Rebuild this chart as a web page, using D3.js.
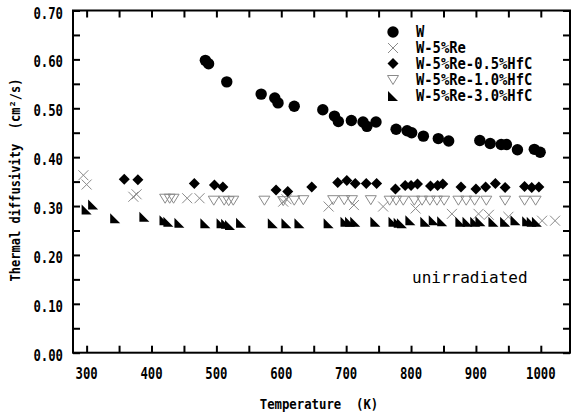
<!DOCTYPE html>
<html>
<head>
<meta charset="utf-8">
<script src="https://cdn.jsdelivr.net/npm/d3@7"></script>
<style>
  body { margin: 0; background: #fff; }
  svg { display: block; }
  text { white-space: pre; }
</style>
</head>
<body>
<div class="container"></div>
<script>
// data (temperature K, diffusivity cm2/s)
const wT = [483, 488, 516, 569, 590, 595, 620, 664, 682, 688, 708, 726, 732, 746, 777, 794, 801, 819, 842, 858, 906, 922, 939, 947, 964, 990, 999];
const wV = [0.598, 0.591, 0.554, 0.529, 0.521, 0.511, 0.504, 0.497, 0.484, 0.473, 0.475, 0.472, 0.463, 0.472, 0.457, 0.454, 0.450, 0.443, 0.438, 0.433, 0.434, 0.428, 0.426, 0.426, 0.415, 0.416, 0.410];

const reT = [295, 300, 372, 377, 455, 474, 603, 608, 673, 712, 757, 807, 863, 904, 920, 950, 1002, 1022];
const reV = [0.363, 0.344, 0.319, 0.324, 0.316, 0.316, 0.309, 0.314, 0.299, 0.302, 0.299, 0.295, 0.284, 0.284, 0.282, 0.278, 0.270, 0.270];

const hfc05T = [358, 379, 466, 497, 510, 592, 610, 647, 687, 701, 714, 731, 747, 776, 791, 800, 810, 830, 841, 849, 877, 900, 915, 930, 945, 975, 986, 997];
const hfc05V = [0.355, 0.354, 0.346, 0.343, 0.339, 0.333, 0.330, 0.339, 0.348, 0.352, 0.346, 0.346, 0.346, 0.335, 0.342, 0.342, 0.345, 0.341, 0.342, 0.345, 0.339, 0.335, 0.339, 0.346, 0.338, 0.340, 0.338, 0.339];

const hfc10T = [421, 428, 434, 496, 512, 519, 526, 574, 603, 620, 634, 680, 697, 709, 738, 767, 777, 788, 805, 817, 829, 840, 851, 873, 885, 898, 916, 945, 975, 992];
const hfc10V = [0.316, 0.316, 0.316, 0.312, 0.312, 0.311, 0.312, 0.312, 0.311, 0.312, 0.313, 0.313, 0.313, 0.313, 0.313, 0.312, 0.312, 0.312, 0.312, 0.312, 0.312, 0.312, 0.312, 0.312, 0.312, 0.312, 0.312, 0.312, 0.312, 0.312];

const hfc30T = [300, 310, 344, 389, 420, 426, 443, 483, 508, 515, 521, 538, 587, 608, 628, 673, 699, 706, 714, 745, 773, 781, 786, 799, 822, 835, 848, 876, 887, 899, 907, 927, 945, 961, 979, 986, 994];
const hfc30V = [0.293, 0.303, 0.275, 0.278, 0.271, 0.268, 0.266, 0.265, 0.265, 0.264, 0.261, 0.266, 0.265, 0.265, 0.265, 0.265, 0.268, 0.268, 0.268, 0.268, 0.268, 0.266, 0.265, 0.271, 0.268, 0.271, 0.269, 0.268, 0.268, 0.268, 0.269, 0.268, 0.268, 0.271, 0.269, 0.268, 0.268];

const seriesNames = ['W', 'W-5%Re', 'W-5%Re-0.5%HfC', 'W-5%Re-1.0%HfC', 'W-5%Re-3.0%HfC'];
const xTickLabels = [300, 400, 500, 600, 700, 800, 900, 1000];
const yTickLabels = [0, 0.1, 0.2, 0.3, 0.4, 0.5, 0.6, 0.7];

const w = 571;
const h = 416;
const frame = { left: 73, right: 570, top: 10.5, bottom: 352.7 };

const x = d3.scaleLinear([279, 1045], [frame.left, frame.right]);
const y = d3.scaleLinear([0, 0.7], [frame.bottom, frame.top]);

const svg = d3.select('.container')
    .append('svg')
    .attr('width', w)
    .attr('height', h)
    .attr('viewBox', [0, 0, w, h]);

const FONT = "'DejaVu Sans Mono', 'Liberation Mono', monospace";
const GRAY = '#8a8a8a';

// narrow, tall text like the japanese gothic of the original
function label(g, tx, ty, str, { anchor = 'middle', rotate = 0, sx = 0.82, size = 15, weight = 'bold' } = {}) {
    return g.append('text')
        .attr('transform', `translate(${tx},${ty}) rotate(${rotate}) scale(${sx},1)`)
        .attr('text-anchor', anchor)
        .attr('font-family', FONT)
        .attr('font-size', size)
        .attr('font-weight', weight)
        .attr('fill', '#000')
        .text(str);
}

// ticks (all pointing inward, every 50 K and every 0.05)
const xTicks = d3.range(300, 1001, 50);
const yTicks = d3.range(0, 0.7001, 0.05);
const tickLen = 7;

const axes = svg.append('g')
    .attr('stroke', '#000')
    .attr('stroke-width', 2)
    .attr('fill', 'none');

axes.append('g')
    .attr('transform', `translate(0,${frame.bottom})`)
    .call(d3.axisBottom(x).tickValues(xTicks).tickSize(-tickLen).tickSizeOuter(0).tickFormat(''));
axes.append('g')
    .attr('transform', `translate(0,${frame.top})`)
    .call(d3.axisTop(x).tickValues(xTicks).tickSize(-tickLen).tickSizeOuter(0).tickFormat(''));
axes.append('g')
    .attr('transform', `translate(${frame.left},0)`)
    .call(d3.axisLeft(y).tickValues(yTicks).tickSize(-tickLen).tickSizeOuter(0).tickFormat(''));
axes.append('g')
    .attr('transform', `translate(${frame.right},0)`)
    .call(d3.axisRight(y).tickValues(yTicks).tickSize(-tickLen).tickSizeOuter(0).tickFormat(''));
axes.selectAll('.domain').remove();
axes.selectAll('line').attr('stroke-width', 2);

axes.append('rect')
    .attr('x', frame.left)
    .attr('y', frame.top)
    .attr('width', frame.right - frame.left)
    .attr('height', frame.bottom - frame.top)
    .attr('stroke-width', 2);

// tick labels
const labels = svg.append('g');
xTickLabels.forEach(t => label(labels, x(t), 379, String(t)));
yTickLabels.forEach(v => label(labels, 63, y(v) + 8, d3.format('.2f')(v), { anchor: 'end' }));

label(labels, 319, 409, 'Temperature  (K)', { size: 14, sx: 0.88 });
label(labels, 20, 180, 'Thermal diffusivity  (cm²/s)', { rotate: -90, size: 14, sx: 0.86 });
label(labels, 412, 283, 'unirradiated', { anchor: 'start', sx: 1, size: 16, weight: 'normal' });

// marker shapes
const markers = {
    circle: g => g.append('circle').attr('r', 5.7).attr('fill', '#000'),
    cross: g => g.append('path').attr('d', 'M-5,-5L5,5M-5,5L5,-5').attr('stroke', GRAY).attr('stroke-width', 1).attr('fill', 'none'),
    diamond: g => g.append('path').attr('d', 'M0,-5.5L5.5,0L0,5.5L-5.5,0Z').attr('fill', '#000'),
    triDown: g => g.append('path').attr('d', 'M-5.5,-4L5.5,-4L0,5Z').attr('stroke', GRAY).attr('stroke-width', 1).attr('fill', 'none'),
    triCorner: g => g.append('path').attr('d', 'M-5,-5L5,5L-5,5Z').attr('fill', '#000')
};

const series = [
    { name: seriesNames[0], T: wT, V: wV, shape: 'circle' },
    { name: seriesNames[1], T: reT, V: reV, shape: 'cross' },
    { name: seriesNames[2], T: hfc05T, V: hfc05V, shape: 'diamond' },
    { name: seriesNames[3], T: hfc10T, V: hfc10V, shape: 'triDown' },
    { name: seriesNames[4], T: hfc30T, V: hfc30V, shape: 'triCorner' }
];

// draw the open / gray ones first, then the filled ones on top
const drawOrder = [1, 3, 4, 2, 0];
drawOrder.forEach(i => {
    const s = series[i];
    const pts = s.T.map((t, j) => [t, s.V[j]]);
    svg.append('g')
        .selectAll('g')
        .data(pts)
        .join('g')
        .attr('transform', d => `translate(${x(d[0])},${y(d[1])})`)
        .each(function () { markers[s.shape](d3.select(this)); });
});

// legend
const legend = svg.append('g');
const legendY = [32, 48, 63.5, 79.5, 96];
series.forEach((s, i) => {
    markers[s.shape](legend.append('g').attr('transform', `translate(393,${legendY[i]})`));
    legend.append('text')
        .attr('transform', `translate(416,${legendY[i] + 5}) scale(0.92,1)`)
        .attr('font-family', FONT)
        .attr('font-size', 15)
        .attr('font-weight', 'bold')
        .text(s.name);
});
</script>
</body>
</html>
